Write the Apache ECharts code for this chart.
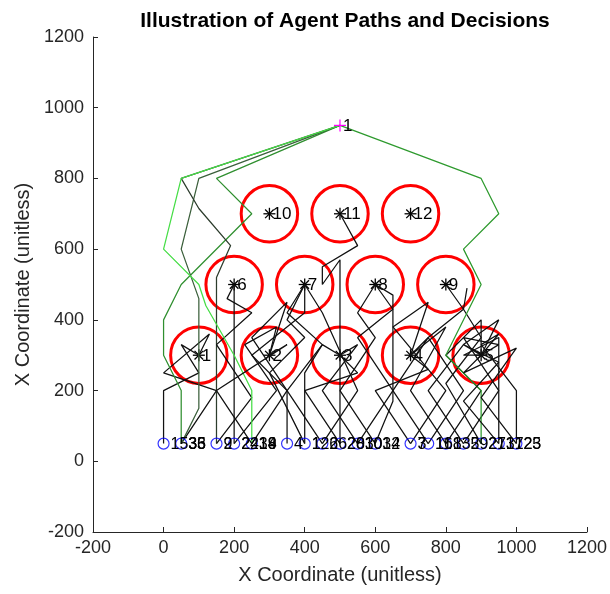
<!DOCTYPE html>
<html>
<head>
<meta charset="utf-8">
<script src="https://cdn.jsdelivr.net/npm/echarts@6/dist/echarts.min.js"></script>
<style>
  html, body { margin: 0; padding: 0; background: #ffffff; }
  #chart { width: 610px; height: 594px; }
</style>
</head>
<body>
<div id="chart"></div>
<script>
// Goal locations (centres of the red rings) and their ids
const goalIds = [1, 2, 3, 4, 5, 6, 7, 8, 9, 10, 11, 12];
const goalX = [100, 300, 500, 700, 900, 200, 400, 600, 800, 300, 500, 700];
const goalY = [300, 300, 300, 300, 300, 500, 500, 500, 500, 700, 700, 700];
const goalRadius = 80;

// Exit point reached by agents that leave the field
const exitPoint = [500, 950];
const exitLabel = '1';

// Agent start row
const startX = [0, 50, 150, 200, 250, 350, 400, 450, 500, 550, 600, 700, 750, 800, 850, 900, 950, 1000];
const startY = 50;

// Agents: id, path kind (0 = goal seeker, 1..5 = exit routes), visited way-points
const agentLabels = [15, 35, 36, 33, 2, 9, 22, 24, 34, 18, 19, 4, 1, 12, 26, 6, 20, 28,
                     30, 10, 32, 14, 3, 7, 11, 16, 8, 13, 5, 29, 21, 27, 31, 17, 25, 23];
const agentKinds = [0, 0, 2, 3, 4, 0, 0, 0, 1, 0, 0, 0, 0, 0, 0, 0, 0, 0,
                    0, 0, 0, 0, 0, 0, 0, 0, 0, 0, 0, 0, 0, 5, 0, 0, 0, 0];
const agentPaths = [
  [[0, 50], [0, 200], [100, 250], [50, 330], [100, 300]],
  [[50, 50], [150, 200], [0, 250], [130, 360], [100, 300]],
  [[50, 50], [50, 200], [0, 300], [0, 400], [50, 500], [250, 700], [150, 800], [500, 950]],
  [[50, 50], [100, 150], [100, 460], [50, 600], [100, 800], [500, 950]],
  [[150, 50], [150, 520], [190, 610], [100, 715], [50, 800], [500, 950]],
  [[150, 50], [250, 180], [150, 330], [250, 420], [180, 460], [200, 500]],
  [[200, 50], [200, 480], [200, 500]],
  [[200, 50], [320, 200], [230, 330], [320, 380], [300, 300]],
  [[250, 50], [250, 200], [200, 300], [120, 440], [100, 500], [0, 600], [50, 800], [500, 950]],
  [[250, 50], [350, 200], [250, 300], [400, 420], [400, 500]],
  [[250, 50], [150, 200], [350, 330], [300, 300]],
  [[350, 50], [350, 200], [250, 350], [350, 450], [300, 300]],
  [[400, 50], [300, 250], [400, 350], [350, 400], [400, 500]],
  [[400, 50], [400, 250], [450, 330], [350, 420], [400, 500]],
  [[450, 50], [350, 200], [450, 330], [500, 300]],
  [[450, 50], [550, 200], [450, 420], [400, 500]],
  [[500, 50], [500, 570], [450, 500], [450, 550], [550, 610], [500, 700]],
  [[500, 50], [400, 200], [550, 250], [500, 300]],
  [[550, 50], [450, 200], [550, 330], [500, 300]],
  [[550, 50], [650, 200], [550, 350], [650, 430], [600, 500]],
  [[600, 50], [500, 200], [600, 350], [550, 420], [600, 500]],
  [[600, 50], [650, 170], [650, 470], [600, 500]],
  [[700, 50], [600, 200], [750, 260], [700, 300]],
  [[700, 50], [800, 200], [650, 380], [750, 450], [700, 300]],
  [[750, 50], [650, 200], [750, 350], [700, 300]],
  [[750, 50], [850, 200], [750, 350], [850, 430], [800, 500]],
  [[800, 50], [700, 200], [800, 380], [700, 300]],
  [[800, 50], [900, 200], [800, 300], [900, 400], [900, 300]],
  [[850, 50], [750, 200], [850, 330], [950, 400], [900, 300]],
  [[850, 50], [950, 200], [850, 350], [950, 330], [900, 300]],
  [[900, 50], [800, 220], [900, 350], [850, 430], [860, 490]],
  [[900, 50], [900, 200], [800, 300], [900, 500], [850, 600], [950, 700], [900, 800], [500, 950]],
  [[950, 50], [950, 350], [850, 300], [900, 300]],
  [[950, 50], [850, 170], [950, 280], [850, 330], [900, 300]],
  [[1000, 50], [1000, 200], [900, 330], [950, 360], [900, 300]],
  [[1000, 50], [900, 180], [1000, 320], [850, 250], [900, 300]]
];

const FONT = '"Liberation Sans", Arial, Helvetica, sans-serif';
const AXIS_COLOR = '#262626';
const kindColors = ['#111111', '#45dd45', '#2f8f2f', '#3b5f3b', '#2c3c2c', '#2e9a2e'];

const chart = echarts.init(document.getElementById('chart'), null, { renderer: 'canvas' });

// one line series per agent path
const pathSeries = agentPaths.map((p, i) => ({
  type: 'line',
  data: p,
  showSymbol: false,
  silent: true,
  z: 3,
  lineStyle: { color: kindColors[agentKinds[i]], width: 1.25 }
}));

// red goal rings with asterisk centre and id
const goalData = goalIds.map((id, i) => [goalX[i], goalY[i], id]);
const goalSeries = {
  type: 'custom',
  silent: true,
  z: 2,
  data: goalData,
  renderItem: function (params, api) {
    const c = api.coord([api.value(0), api.value(1)]);
    const r = api.size([goalRadius, 0])[0];
    const a = 6, d = 4.3;
    const ls = { stroke: '#000000', lineWidth: 1.3 };
    return {
      type: 'group',
      children: [
        { type: 'circle', shape: { cx: c[0], cy: c[1], r: r }, style: { fill: 'none', stroke: '#ff0000', lineWidth: 3 } },
        { type: 'line', shape: { x1: c[0] - a, y1: c[1], x2: c[0] + a, y2: c[1] }, style: ls },
        { type: 'line', shape: { x1: c[0], y1: c[1] - a, x2: c[0], y2: c[1] + a }, style: ls },
        { type: 'line', shape: { x1: c[0] - d, y1: c[1] - d, x2: c[0] + d, y2: c[1] + d }, style: ls },
        { type: 'line', shape: { x1: c[0] - d, y1: c[1] + d, x2: c[0] + d, y2: c[1] - d }, style: ls },
        { type: 'text', style: { text: String(api.value(2)), x: c[0] + 3, y: c[1] + 1, fontSize: 17, fontFamily: FONT, fill: '#000000', verticalAlign: 'middle', align: 'left' } }
      ]
    };
  }
};

// blue start markers
const startSeries = {
  type: 'scatter',
  silent: true,
  z: 4,
  data: startX.map(x => [x, startY]),
  symbol: 'circle',
  symbolSize: 11,
  itemStyle: { color: 'rgba(0,0,0,0)', borderColor: '#0000ff', borderWidth: 1.2 }
};

// agent ids written beside their start positions
const agentLabelSeries = {
  type: 'custom',
  silent: true,
  z: 5,
  data: agentPaths.map((p, i) => [p[0][0], p[0][1], agentLabels[i]]),
  renderItem: function (params, api) {
    const c = api.coord([api.value(0), api.value(1)]);
    return {
      type: 'text',
      style: { text: String(api.value(2)), x: c[0] + 7, y: c[1] + 1, fontSize: 16, fontFamily: FONT, fill: '#000000', verticalAlign: 'middle', align: 'left' }
    };
  }
};

// magenta exit marker
const exitSeries = {
  type: 'custom',
  silent: true,
  z: 6,
  data: [[exitPoint[0], exitPoint[1]]],
  renderItem: function (params, api) {
    const c = api.coord([api.value(0), api.value(1)]);
    const a = 6;
    const ls = { stroke: '#ff00ff', lineWidth: 1.2 };
    return {
      type: 'group',
      children: [
        { type: 'line', shape: { x1: c[0] - a, y1: c[1], x2: c[0] + a, y2: c[1] }, style: ls },
        { type: 'line', shape: { x1: c[0], y1: c[1] - a, x2: c[0], y2: c[1] + a }, style: ls },
        { type: 'text', style: { text: exitLabel, x: c[0] + 3, y: c[1] + 1, fontSize: 17, fontFamily: FONT, fill: '#000000', verticalAlign: 'middle', align: 'left' } }
      ]
    };
  }
};

const axisCommon = {
  type: 'value',
  min: -200,
  max: 1200,
  interval: 200,
  splitLine: { show: false },
  axisLine: { show: true, onZero: false, lineStyle: { color: AXIS_COLOR, width: 1 } },
  axisTick: { show: true, inside: true, length: 5, lineStyle: { color: AXIS_COLOR } },
  axisLabel: { color: AXIS_COLOR, fontSize: 18, fontFamily: FONT, formatter: v => String(v) },
  nameLocation: 'middle',
  nameTextStyle: { color: AXIS_COLOR, fontSize: 20, fontFamily: FONT }
};

chart.setOption({
  animation: false,
  backgroundColor: '#ffffff',
  title: {
    text: 'Illustration of Agent Paths and Decisions',
    left: 340,
    textAlign: 'center',
    top: 6,
    textStyle: { fontSize: 21, fontWeight: 'bold', color: '#000000', fontFamily: FONT }
  },
  grid: { left: 93, right: 23, top: 37, bottom: 62, containLabel: false },
  xAxis: Object.assign({}, axisCommon, {
    name: 'X Coordinate (unitless)',
    nameGap: 33,
    axisLabel: Object.assign({}, axisCommon.axisLabel, { margin: 7 })
  }),
  yAxis: Object.assign({}, axisCommon, {
    name: 'X Coordinate (unitless)',
    nameGap: 57,
    axisLabel: Object.assign({}, axisCommon.axisLabel, { margin: 9 })
  }),
  series: [goalSeries].concat(pathSeries, [startSeries, agentLabelSeries, exitSeries])
});
</script>
</body>
</html>
